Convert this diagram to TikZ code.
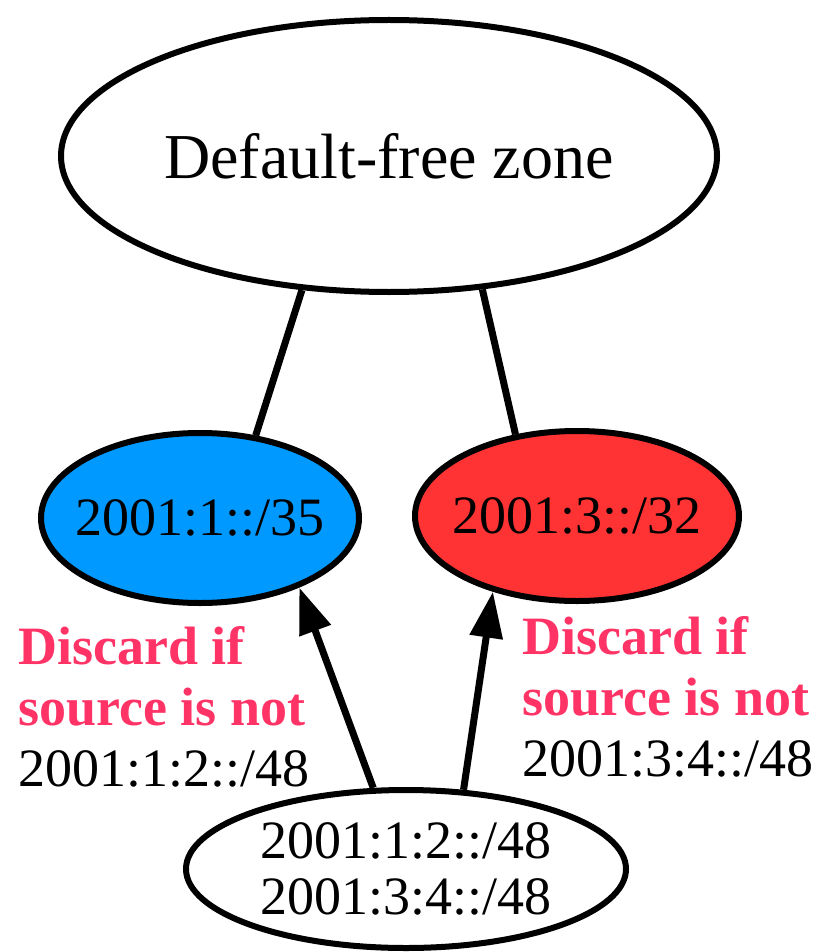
\documentclass[tikz,border=0pt]{standalone}
\usepackage{fontspec}
\setmainfont{Liberation Serif}
\usetikzlibrary{shapes.geometric,arrows.meta}

\definecolor{prefixblue}{RGB}{0,153,255}
\definecolor{prefixred}{RGB}{255,51,51}
\definecolor{notepink}{RGB}{255,51,102}

\tikzset{
  zone/.style={ellipse, draw=black, line width=6pt, inner sep=0pt},
  zonetext/.style={font=\fontsize{54}{56}\selectfont, align=center, inner sep=0pt},
  link/.style={line width=7pt, draw=black},
  feed/.style={link, -{Triangle[length=46pt,width=32pt]}},
  note/.style={anchor=north west, inner sep=0pt, align=left,
    font=\fontsize{54}{61}\selectfont},
}

\begin{document}
\begin{tikzpicture}[x=1pt,y=-1pt]
  \useasboundingbox (0,0) rectangle (825,952);

  % autonomous systems (ellipse size fixed, text set as a centred label)
  \node[zone, minimum width=656pt, minimum height=272pt,
        label={[zonetext, font=\fontsize{64}{66}\selectfont]center:Default-free zone}] (dfz) at (389,156) {};
  \node[zone, fill=prefixblue, minimum width=318pt, minimum height=170pt,
        label={[zonetext]center:2001:1::/35}] (isp1) at (200,518) {};
  \node[zone, fill=prefixred, minimum width=324pt, minimum height=170pt,
        label={[zonetext]center:2001:3::/32}] (isp2) at (577,516) {};
  \node[zone, fill=white, minimum width=440pt, minimum height=158pt,
        label={[zonetext]center:2001:1:2::/48\\2001:3:4::/48}] (site) at (406,869) {};

  % upstream links
  \draw[link] (dfz.237) -- (isp1.56);
  \draw[link] (dfz.-55.5) -- (isp2.127.5);

  % multihomed site sending to both providers
  \draw[feed] (site.112) -- (isp1.-35);
  \draw[feed] (site.54) -- (isp2.222);

  % ingress filtering notes
  \node[note] (note1) at (18,626) {\textcolor{notepink}{\bfseries Discard if}\\\textcolor{notepink}{\bfseries source is not}\\2001:1:2::/48};
  \node[note] (note2) at (522,616) {\textcolor{notepink}{\bfseries Discard if}\\\textcolor{notepink}{\bfseries source is not}\\2001:3:4::/48};
\end{tikzpicture}
\end{document}
